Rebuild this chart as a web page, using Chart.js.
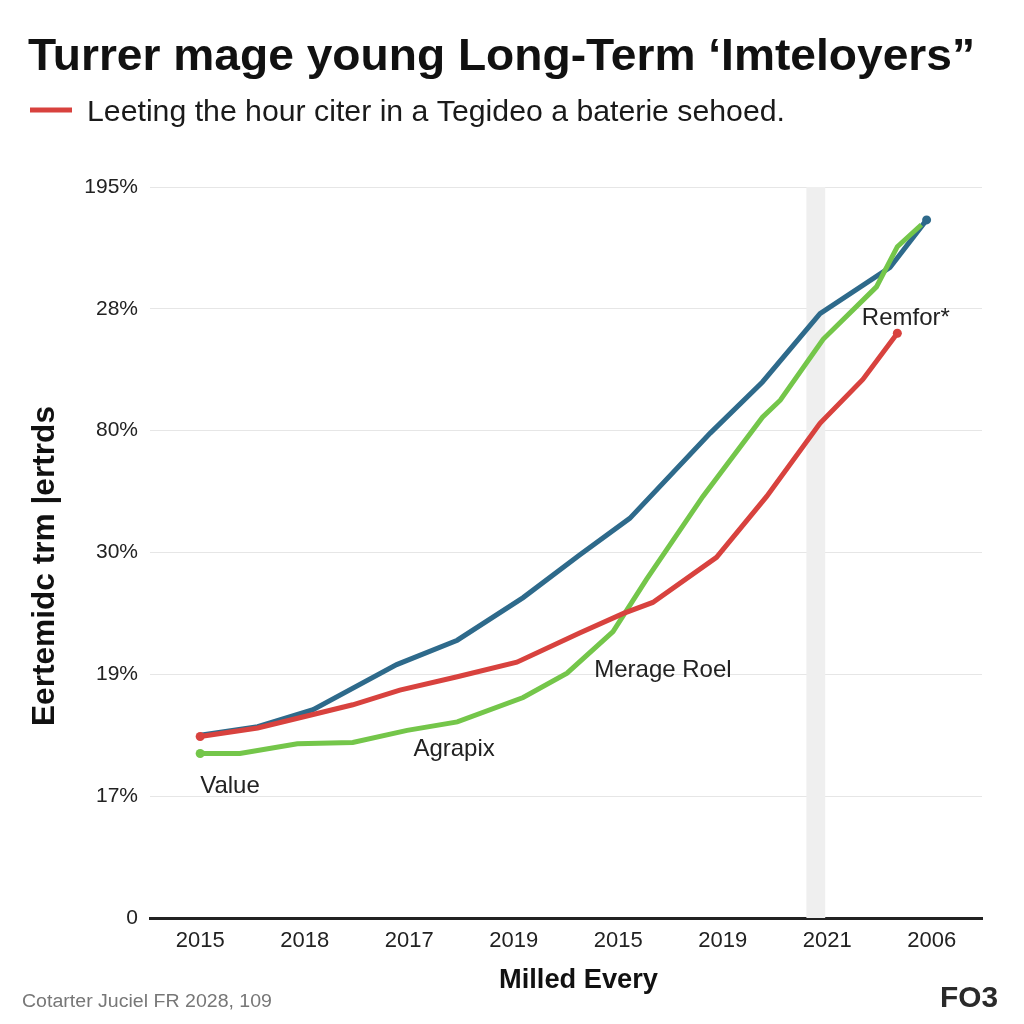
<!DOCTYPE html>
<html>
<head>
<meta charset="utf-8">
<title>Long-Term chart</title>
<script src="https://cdn.jsdelivr.net/npm/chart.js@4.4.1/dist/chart.umd.min.js"></script>
<style>
    html, body { margin: 0; padding: 0; background: #ffffff; }
    #wrap { position: relative; width: 1024px; height: 1024px; }
</style>
</head>
<body>
<div id="wrap"><canvas id="chart" width="1024" height="1024"></canvas></div>
<script>
(function () {
    "use strict";

    var titleText = "Turrer mage young Long-Term \u2018Imteloyers\u201d";
    var legendText = "Leeting the hour citer in a Tegideo a baterie sehoed.";
    var yTitle = "Eertemidc trm |ertrds";
    var xTitle = "Milled Every";
    var footLeft = "Cotarter Juciel FR 2028, 109";
    var footRight = "FO3";

    // tick labels (x by index, y bottom to top)
    var xLabels = ["2015", "2018", "2017", "2019", "2015", "2019", "2021", "2006"];
    var yLabels = ["0", "17%", "19%", "30%", "80%", "28%", "195%"];

    // series, x in category index units, y in tick index units
    var blueX = [0, 0.55, 1.08, 1.88, 2.46, 3.09, 3.63, 4.11, 4.88, 5.38, 5.93, 6.6, 6.95];
    var blueY = [1.5, 1.57, 1.71, 2.08, 2.28, 2.63, 2.98, 3.28, 3.98, 4.4, 4.96, 5.34, 5.73];

    var redX = [0, 0.55, 1.08, 1.46, 1.91, 2.46, 3.03, 3.63, 4.05, 4.33, 4.94, 5.42, 5.93, 6.34, 6.67];
    var redY = [1.49, 1.56, 1.67, 1.75, 1.87, 1.98, 2.1, 2.34, 2.5, 2.59, 2.96, 3.46, 4.06, 4.42, 4.8];

    var greenX = [0, 0.38, 0.93, 1.46, 1.98, 2.46, 3.09, 3.51, 3.95, 4.27, 4.81, 5.38, 5.55, 5.96, 6.47, 6.67, 6.9];
    var greenY = [1.35, 1.35, 1.43, 1.44, 1.54, 1.61, 1.81, 2.01, 2.35, 2.78, 3.46, 4.11, 4.25, 4.75, 5.18, 5.51, 5.69];

    // in-chart notes, anchored in data units (left, baseline)
    var noteText = ["Remfor*", "Merage Roel", "Agrapix", "Value"];
    var noteX = [6.33, 3.77, 2.04, 0];
    var noteY = [4.87, 1.98, 1.33, 1.03];

    // shaded column
    var bandFrom = 5.8;
    var bandTo = 5.98;

    var BLUE = "#2e6a8b";
    var GREEN = "#74c64a";
    var RED = "#d8423e";
    var FONT = "'Liberation Sans', Arial, sans-serif";

    function toPoints(xs, ys) {
        return xs.map(function (x, i) { return { x: x, y: ys[i] }; });
    }

    function endDots(n, first, last) {
        var r = [];
        for (var i = 0; i < n; i++) {
            r.push((i === 0 && first) || (i === n - 1 && last) ? 4.5 : 0);
        }
        return r;
    }

    // draw text squeezed/stretched to a target width
    function fitText(ctx, text, x, y, width, font) {
        ctx.save();
        ctx.font = font;
        var w = ctx.measureText(text).width;
        ctx.translate(x, y);
        ctx.scale(width / w, 1);
        ctx.fillText(text, 0, 0);
        ctx.restore();
    }

    var bandPlugin = {
        id: "band",
        beforeDatasetsDraw: function (chart) {
            var ctx = chart.ctx, xs = chart.scales.x, area = chart.chartArea;
            var x0 = xs.getPixelForValue(bandFrom), x1 = xs.getPixelForValue(bandTo);
            ctx.save();
            ctx.fillStyle = "#efefef";
            ctx.fillRect(x0, area.top, x1 - x0, area.bottom - area.top);
            ctx.restore();
        }
    };

    var textPlugin = {
        id: "texts",
        afterDraw: function (chart) {
            var ctx = chart.ctx, xs = chart.scales.x, ys = chart.scales.y;
            ctx.save();
            ctx.textBaseline = "alphabetic";
            ctx.textAlign = "left";

            ctx.fillStyle = "#111111";
            fitText(ctx, titleText, 28, 70, 947, "bold 44px " + FONT);

            ctx.strokeStyle = RED;
            ctx.lineWidth = 5;
            ctx.beginPath();
            ctx.moveTo(30, 110);
            ctx.lineTo(72, 110);
            ctx.stroke();
            ctx.fillStyle = "#1a1a1a";
            fitText(ctx, legendText, 87, 121, 698, "30px " + FONT);

            // rotated y title
            ctx.save();
            ctx.translate(54, 726);
            ctx.rotate(-Math.PI / 2);
            ctx.fillStyle = "#111111";
            fitText(ctx, yTitle, 0, 0, 320, "bold 31px " + FONT);
            ctx.restore();

            ctx.fillStyle = "#111111";
            fitText(ctx, xTitle, 499, 988, 159, "bold 27px " + FONT);

            ctx.fillStyle = "#777777";
            fitText(ctx, footLeft, 22, 1007, 250, "18px " + FONT);

            ctx.fillStyle = "#2a2a2a";
            fitText(ctx, footRight, 940, 1007, 58, "bold 30px " + FONT);

            ctx.fillStyle = "#222222";
            ctx.font = "24px " + FONT;
            noteText.forEach(function (t, i) {
                ctx.fillText(t, xs.getPixelForValue(noteX[i]), ys.getPixelForValue(noteY[i]));
            });
            ctx.restore();
        }
    };

    function init() {
        var ctx = document.getElementById("chart").getContext("2d");

        new Chart(ctx, {
            type: "line",
            data: {
                datasets: [
                    {
                        label: "red",
                        data: toPoints(redX, redY),
                        borderColor: RED,
                        backgroundColor: RED,
                        borderWidth: 5,
                        pointRadius: endDots(redX.length, true, true),
                        pointBorderWidth: 0,
                        tension: 0
                    },
                    {
                        label: "green",
                        data: toPoints(greenX, greenY),
                        borderColor: GREEN,
                        backgroundColor: GREEN,
                        borderWidth: 5,
                        pointRadius: endDots(greenX.length, true, false),
                        pointBorderWidth: 0,
                        tension: 0
                    },
                    {
                        label: "blue",
                        data: toPoints(blueX, blueY),
                        borderColor: BLUE,
                        backgroundColor: BLUE,
                        borderWidth: 5,
                        pointRadius: endDots(blueX.length, false, true),
                        pointBorderWidth: 0,
                        tension: 0
                    }
                ]
            },
            options: {
                responsive: false,
                devicePixelRatio: 1,
                animation: false,
                layout: { padding: { top: 187, left: 0, right: 42, bottom: 0 } },
                plugins: {
                    legend: { display: false },
                    title: { display: false },
                    tooltip: { enabled: false }
                },
                scales: {
                    x: {
                        type: "linear",
                        min: -0.48,
                        max: 7.48,
                        afterFit: function (s) { s.height = 106; },
                        afterBuildTicks: function (s) {
                            s.ticks = xLabels.map(function (_, i) { return { value: i }; });
                        },
                        grid: { display: false, drawTicks: false },
                        border: { display: true, color: "#222222", width: 3 },
                        ticks: {
                            padding: 10,
                            color: "#222222",
                            font: { family: FONT, size: 22 },
                            callback: function (v) { return xLabels[v]; }
                        }
                    },
                    y: {
                        type: "linear",
                        min: 0,
                        max: 6,
                        afterFit: function (s) { s.width = 150; },
                        afterBuildTicks: function (s) {
                            s.ticks = yLabels.map(function (_, i) { return { value: i }; });
                        },
                        grid: { color: "#e6e6e6", lineWidth: 1, drawTicks: false },
                        border: { display: false },
                        ticks: {
                            padding: 12,
                            color: "#222222",
                            font: { family: FONT, size: 21 },
                            callback: function (v) { return yLabels[v]; }
                        }
                    }
                }
            },
            plugins: [bandPlugin, textPlugin]
        });
    }

    document.addEventListener("DOMContentLoaded", init);
})();
</script>
</body>
</html>
